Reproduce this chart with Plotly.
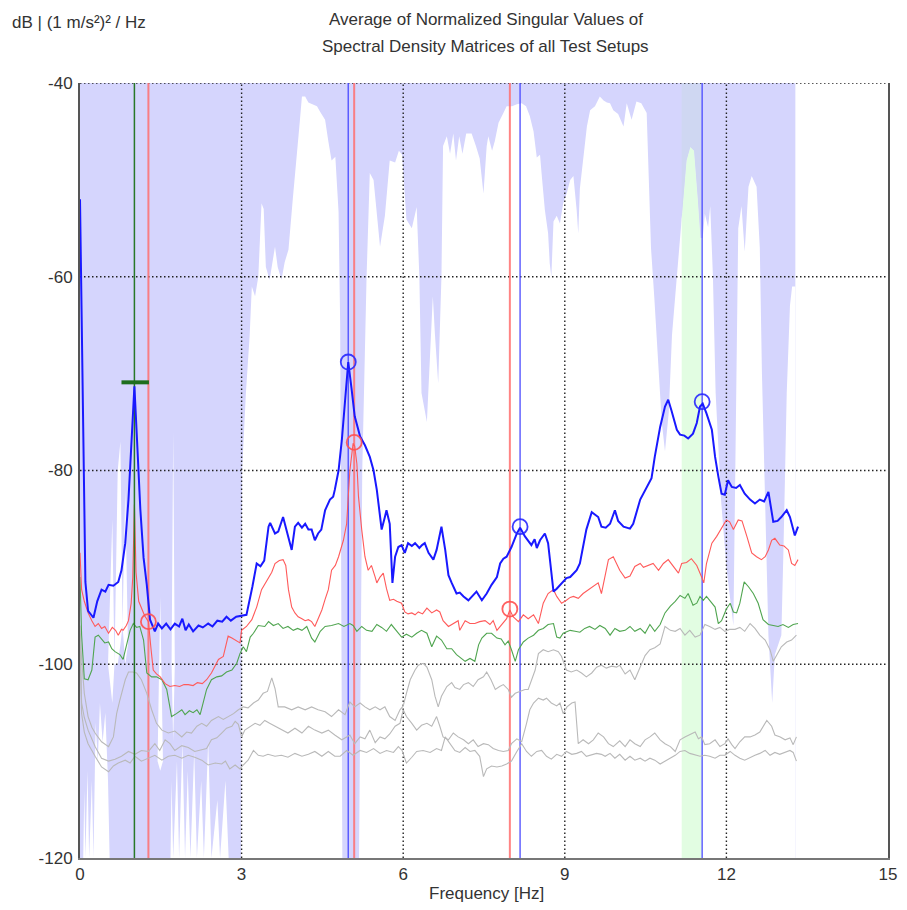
import numpy as np
import plotly.graph_objects as go

# ---------------- data (frequency [Hz], level [dB]) ----------------
blue_sv = [(0, -52), (0.03, -65), (0.06, -80), (0.1, -91.5), (0.15, -94.5), (0.25, -95.2), (0.32, -93.5),
    (0.4, -92.3), (0.47, -92.5), (0.53, -91.8), (0.62, -91.9), (0.71, -91.5), (0.77, -90.3), (0.84, -87.5),
    (0.9, -83), (0.96, -76.5), (1.01, -71.3), (1.06, -77), (1.12, -84), (1.18, -89), (1.24, -91.8),
    (1.30, -95.4), (1.39, -96.6), (1.45, -95.8), (1.52, -96.3), (1.6, -95.8), (1.68, -96.4), (1.76, -95.8),
    (1.84, -96.1), (1.9, -95.3), (1.96, -96.5), (2.02, -95.9), (2.1, -96.6), (2.2, -96), (2.28, -96.2),
    (2.38, -95.8), (2.46, -96.1), (2.55, -95.5), (2.64, -95.6), (2.72, -95.1), (2.8, -95.5), (2.9, -95.1),
    (3.0, -95.0), (3.09, -94.9), (3.2, -92), (3.28, -89.6), (3.35, -89.9), (3.42, -89.3), (3.5, -85.8),
    (3.53, -85.4), (3.62, -86.5), (3.68, -86.3), (3.77, -84.8), (3.87, -86.8), (3.93, -88.2), (3.99, -85.8),
    (4.05, -85.4), (4.12, -85.9), (4.18, -85.5), (4.24, -86.1), (4.3, -86.1), (4.36, -87.2), (4.42, -86.5),
    (4.48, -86.1), (4.55, -84.1), (4.64, -83.0), (4.7, -82.7), (4.73, -82.0), (4.8, -80), (4.86, -76.9),
    (4.92, -72.4), (4.98, -68.8), (5.04, -71.5), (5.1, -74.4), (5.2, -76.5), (5.29, -77.4), (5.38, -78.6),
    (5.45, -80), (5.51, -82), (5.57, -84.8), (5.6, -86.1), (5.66, -84.8), (5.69, -84.1), (5.75, -85.5),
    (5.8, -91.6), (5.85, -88.9), (5.91, -87.9), (5.97, -87.7), (6.03, -88.5), (6.09, -87.5), (6.16, -87.8),
    (6.22, -87.5), (6.3, -88), (6.35, -87.7), (6.4, -87.5), (6.47, -88.5), (6.56, -89.2), (6.62, -88.2),
    (6.71, -85.8), (6.78, -88.2), (6.84, -90.8), (6.9, -91.6), (6.99, -92.7), (7.05, -92.6), (7.12, -93),
    (7.21, -93.4), (7.3, -92.9), (7.36, -92.5), (7.46, -93.4), (7.55, -92.7), (7.64, -91.8), (7.74, -91),
    (7.8, -89.6), (7.86, -89.1), (7.92, -88.9), (8.01, -87.9), (8.11, -86.5), (8.17, -85.9), (8.26, -86.8),
    (8.32, -87.3), (8.38, -87.7), (8.44, -87.1), (8.48, -88), (8.54, -87.2), (8.63, -86.5), (8.69, -87.5),
    (8.74, -90), (8.79, -92.5), (8.85, -92.2), (8.91, -91.8), (9.03, -91.1), (9.1, -91), (9.16, -90.6),
    (9.22, -90.3), (9.28, -89.6), (9.34, -88), (9.40, -86.1), (9.50, -84.3), (9.56, -84.6), (9.62, -84.8),
    (9.68, -85.8), (9.76, -85.9), (9.84, -85.5), (9.93, -84.1), (9.99, -85.2), (10.09, -85.8), (10.21, -86),
    (10.27, -85.5), (10.40, -83.0), (10.49, -82), (10.61, -80.8), (10.67, -78.6), (10.77, -75.5),
    (10.86, -73.4), (10.92, -72.7), (10.98, -73.8), (11.08, -75.8), (11.14, -76.3), (11.22, -76.4),
    (11.29, -76.7), (11.38, -76.2), (11.45, -75.1), (11.51, -73.4), (11.56, -73.1), (11.63, -74.1),
    (11.73, -75.8), (11.79, -78.6), (11.85, -80.6), (11.91, -82.4), (11.97, -82.5), (12.03, -81),
    (12.1, -81.7), (12.18, -81.8), (12.25, -81.5), (12.34, -82.4), (12.44, -83), (12.53, -83.4),
    (12.62, -83), (12.7, -83.2), (12.78, -82.2), (12.87, -85.3), (12.95, -85.2), (13.02, -84.8),
    (13.12, -84.1), (13.18, -84.8), (13.27, -86.7), (13.33, -85.8)]

red_sv = [(0, -88.5), (0.03, -92.3), (0.08, -93.5), (0.15, -94.7), (0.22, -95.5), (0.28, -96.1), (0.34, -95.8),
    (0.4, -96.3), (0.46, -96.1), (0.53, -96.8), (0.6, -96.2), (0.66, -96.5), (0.71, -97), (0.77, -96.4),
    (0.8, -96.5), (0.86, -96), (0.9, -95.5), (0.95, -93.7), (0.98, -91), (1.01, -83.5), (1.04, -90.5),
    (1.09, -93.5), (1.2, -95), (1.27, -95.6), (1.32, -98.5), (1.36, -100.6), (1.42, -101), (1.49, -101.3),
    (1.58, -102), (1.67, -102.3), (1.76, -102.2), (1.85, -102.3), (1.93, -102.1), (2.01, -102.1),
    (2.1, -102.2), (2.18, -101.9), (2.27, -102), (2.35, -101.6), (2.44, -100.9), (2.5, -100.3),
    (2.57, -99.5), (2.66, -99.2), (2.75, -97.1), (2.82, -97.3), (2.88, -97.5), (2.97, -97.8), (3.0, -96.5),
    (3.09, -96.1), (3.19, -95.4), (3.28, -94.1), (3.37, -92.3), (3.5, -91), (3.56, -90.5), (3.62, -89.6),
    (3.7, -89.3), (3.77, -89.2), (3.82, -89.8), (3.87, -92.3), (3.93, -94.1), (3.99, -94.7), (4.05, -95.1),
    (4.12, -95.3), (4.18, -95.5), (4.24, -95.4), (4.3, -95.6), (4.36, -96.1), (4.42, -95.3), (4.49, -94.4),
    (4.55, -93.3), (4.61, -92.3), (4.67, -90.3), (4.74, -89.8), (4.80, -88.9), (4.89, -87.2), (4.95, -85.5),
    (5.01, -80), (5.07, -77.2), (5.1, -77.5), (5.14, -79.3), (5.17, -82.7), (5.23, -86.1), (5.29, -88.9),
    (5.35, -90.3), (5.41, -89.8), (5.48, -91), (5.51, -91.6), (5.57, -91), (5.63, -90.6), (5.69, -92.2),
    (5.75, -93.4), (5.82, -93.3), (5.88, -93.5), (5.97, -93.7), (6.03, -94.6), (6.09, -94.8), (6.16, -94.7),
    (6.22, -94.9), (6.28, -94.6), (6.36, -94.8), (6.44, -94.2), (6.53, -94.7), (6.62, -94.4), (6.68, -94.6),
    (6.74, -95.5), (6.84, -96.1), (6.93, -95.8), (7.02, -95.5), (7.05, -96.5), (7.15, -95.5), (7.24, -95.8),
    (7.33, -95.8), (7.42, -95.6), (7.52, -95.5), (7.61, -95.9), (7.67, -95.5), (7.74, -96.5), (7.83, -95.9),
    (7.92, -95.3), (7.98, -94.4), (8.04, -95.1), (8.14, -95.6), (8.23, -94.9), (8.32, -95.3), (8.42, -94.9),
    (8.51, -95.8), (8.60, -93.7), (8.69, -92.7), (8.79, -92.3), (8.85, -93), (8.94, -93.7), (9.03, -93.4),
    (9.1, -93.1), (9.16, -93), (9.25, -93.2), (9.34, -92.7), (9.44, -92.3), (9.53, -92), (9.62, -91.6),
    (9.68, -92.7), (9.75, -90.6), (9.81, -89.2), (9.9, -88.9), (9.96, -89.6), (10.02, -90.3), (10.12, -91.1),
    (10.21, -90.9), (10.30, -89.9), (10.40, -89.6), (10.46, -90), (10.55, -89.8), (10.64, -89.6),
    (10.74, -90.3), (10.83, -89.6), (10.92, -89.2), (11.02, -89.9), (11.11, -90.6), (11.17, -89.6),
    (11.26, -89.5), (11.35, -89.1), (11.45, -89.8), (11.54, -91), (11.58, -91.6), (11.63, -89.6),
    (11.73, -87.5), (11.82, -86.8), (11.91, -86), (12.0, -85.1), (12.06, -85.3), (12.13, -86.1),
    (12.22, -85.1), (12.29, -85.2), (12.38, -86.8), (12.47, -88.5), (12.56, -88.9), (12.65, -89.2),
    (12.72, -88.9), (12.78, -88.2), (12.84, -87.2), (12.90, -87), (12.99, -87.7), (13.07, -87.8),
    (13.15, -88.2), (13.21, -89.6), (13.27, -89.8), (13.33, -89.2)]

green_sv = [(0, -91), (0.03, -97), (0.08, -101.5), (0.15, -101.6), (0.22, -100.6), (0.28, -97.2), (0.34, -97),
    (0.4, -97.4), (0.46, -97.8), (0.53, -97.7), (0.59, -98.4), (0.65, -98.7), (0.74, -99), (0.8, -99.5),
    (0.87, -97.8), (0.93, -96.5), (0.99, -95.8), (1.05, -96.2), (1.11, -96.1), (1.18, -97.5), (1.24, -100.9),
    (1.33, -101.3), (1.42, -101.3), (1.52, -101.6), (1.61, -102.6), (1.66, -104), (1.70, -105.4),
    (1.79, -105.1), (1.89, -104.7), (1.95, -105.2), (2.03, -104.8), (2.1, -105), (2.17, -104.7),
    (2.23, -105.2), (2.29, -104), (2.35, -102.6), (2.44, -101.6), (2.54, -101.3), (2.63, -101.2),
    (2.72, -100.8), (2.82, -100.6), (2.91, -99.9), (2.97, -98.9), (3.03, -98.2), (3.09, -98.7), (3.16, -97.2),
    (3.22, -96.8), (3.31, -96), (3.43, -96.1), (3.50, -95.6), (3.59, -96), (3.68, -95.8), (3.77, -96.3),
    (3.86, -96.1), (3.96, -96.5), (4.04, -96.3), (4.12, -96.5), (4.21, -96.1), (4.30, -97.3), (4.36, -97.7),
    (4.46, -96.6), (4.55, -96.1), (4.67, -96), (4.80, -95.8), (4.9, -96.1), (5.01, -95.8), (5.07, -96),
    (5.14, -96.6), (5.23, -96.1), (5.32, -96.5), (5.42, -96.6), (5.51, -95.9), (5.6, -96.2), (5.69, -96.6),
    (5.78, -95.9), (5.88, -96.6), (5.97, -97.2), (6.06, -96.9), (6.16, -97.2), (6.25, -96.8), (6.34, -96.5),
    (6.44, -96.8), (6.53, -98.2), (6.62, -97.1), (6.71, -97.5), (6.81, -98.4), (6.90, -98.4), (6.99, -99),
    (7.09, -99.4), (7.15, -99.7), (7.24, -99.4), (7.33, -99.7), (7.40, -98), (7.46, -97.3), (7.55, -96.8),
    (7.64, -96.8), (7.74, -97.3), (7.82, -97.4), (7.89, -98), (7.95, -97.6), (8.01, -98.5), (8.08, -99.7),
    (8.14, -98.5), (8.23, -97.7), (8.32, -97.3), (8.42, -97), (8.51, -96.5), (8.60, -96.3), (8.69, -95.9),
    (8.79, -95.8), (8.85, -97.2), (8.91, -97.3), (8.97, -96.8), (9.10, -96.5), (9.19, -96.6), (9.28, -96.7),
    (9.37, -96.3), (9.46, -96.1), (9.56, -96.4), (9.65, -96), (9.75, -96.3), (9.84, -97), (9.93, -96.3),
    (10.02, -96.6), (10.12, -96.5), (10.21, -96.1), (10.30, -96.6), (10.40, -96.3), (10.49, -96.8),
    (10.58, -95.9), (10.67, -96.6), (10.77, -95.9), (10.86, -94.7), (10.96, -94), (11.05, -93.5),
    (11.14, -92.9), (11.23, -93.2), (11.29, -92.7), (11.38, -93.9), (11.45, -93.7), (11.51, -93),
    (11.57, -93.4), (11.63, -93), (11.73, -93.7), (11.79, -94.1), (11.85, -95.8), (11.91, -95.5),
    (12.0, -94.3), (12.07, -93.7), (12.13, -94.6), (12.19, -94.7), (12.25, -93.7), (12.33, -91.5),
    (12.41, -92), (12.50, -92.7), (12.59, -93.7), (12.68, -95.4), (12.78, -95.9), (12.87, -96),
    (12.96, -96.1), (13.05, -95.9), (13.15, -96.2), (13.24, -95.9), (13.33, -95.8)]

grey_sv4 = [(0, -96), (0.03, -99.5), (0.08, -103), (0.15, -105.4), (0.22, -106.5), (0.28, -107.1), (0.4, -108),
    (0.53, -108.5), (0.62, -107.5), (0.68, -105.1), (0.74, -103.7), (0.84, -101.6), (0.9, -100.8),
    (0.98, -100.8), (1.05, -100.9), (1.14, -101.6), (1.24, -103), (1.33, -104.7), (1.42, -106.1),
    (1.52, -106.8), (1.64, -107.1), (1.76, -106.9), (1.89, -107.5), (1.98, -107), (2.07, -107.1),
    (2.17, -106.4), (2.26, -106.1), (2.35, -106.4), (2.44, -105.8), (2.57, -105.4), (2.66, -105.7),
    (2.75, -105.4), (2.85, -105.1), (2.94, -104.7), (3.03, -104.4), (3.12, -104.5), (3.22, -104),
    (3.31, -103.7), (3.40, -103), (3.48, -102.8), (3.56, -101.4), (3.62, -102.5), (3.68, -104.4),
    (3.8, -104.4), (3.93, -104.7), (4.05, -104.4), (4.18, -104.7), (4.30, -104.4), (4.42, -104.7),
    (4.55, -104.9), (4.67, -105.4), (4.8, -104.7), (4.92, -105.2), (5.01, -103.9), (5.1, -104.4),
    (5.20, -104), (5.29, -104.4), (5.38, -104.7), (5.48, -104.4), (5.57, -104.7), (5.66, -104.4),
    (5.75, -105.4), (5.85, -105.8), (5.94, -104.7), (6.0, -104.3), (6.06, -103), (6.13, -101.6),
    (6.22, -100.6), (6.28, -100.1), (6.37, -99.9), (6.44, -100.3), (6.53, -101.6), (6.59, -103.3),
    (6.65, -104.4), (6.71, -103.3), (6.81, -102.3), (6.90, -101.9), (6.96, -102.4), (7.05, -102.6),
    (7.12, -102.1), (7.21, -101.9), (7.3, -102.3), (7.39, -101.6), (7.49, -101.3), (7.55, -100.8),
    (7.63, -101.6), (7.71, -102.6), (7.79, -102.3), (7.86, -102.1), (7.95, -102.6), (8.01, -103.4),
    (8.08, -103), (8.17, -102.8), (8.26, -102.6), (8.32, -102.6), (8.38, -101.6), (8.45, -100.6),
    (8.51, -98.9), (8.60, -98.5), (8.69, -98.7), (8.79, -98.5), (8.88, -98.7), (8.94, -99.2), (9.03, -100.6),
    (9.12, -100.8), (9.22, -100.6), (9.31, -100.9), (9.40, -101.3), (9.50, -100.9), (9.59, -100.3),
    (9.68, -100.1), (9.77, -100.4), (9.87, -100.2), (9.96, -100.3), (10.02, -100.1), (10.12, -101),
    (10.21, -100.6), (10.30, -101.6), (10.40, -100.3), (10.49, -99.1), (10.58, -98.5), (10.67, -98.3),
    (10.77, -97.9), (10.86, -96.1), (10.96, -96.5), (11.05, -96.6), (11.14, -96.3), (11.23, -97),
    (11.32, -96.5), (11.42, -97.2), (11.51, -97), (11.60, -95.9), (11.69, -96.1), (11.79, -96.4),
    (11.88, -96.2), (11.97, -96.6), (12.06, -96.4), (12.16, -96.4), (12.25, -96.2), (12.34, -96.6),
    (12.44, -95.8), (12.53, -96.3), (12.62, -97), (12.72, -97.5), (12.81, -98.5), (12.87, -99.7),
    (12.93, -99.1), (13.02, -98.2), (13.12, -97.7), (13.21, -97.5), (13.30, -97.0)]

grey_sv5 = [(0, -97), (0.03, -104), (0.08, -105.5), (0.15, -106.8), (0.28, -108.5), (0.40, -109.7), (0.53, -110),
    (0.65, -109.8), (0.77, -109.5), (0.90, -109), (1.02, -109.3), (1.14, -108.9), (1.27, -109), (1.39, -108.2),
    (1.48, -108.9), (1.58, -107.8), (1.67, -108.2), (1.76, -108.9), (1.89, -108.4), (2.01, -108.6),
    (2.13, -109), (2.26, -108.8), (2.35, -108.7), (2.44, -107.8), (2.54, -107.6), (2.63, -107.1),
    (2.72, -106.6), (2.82, -106.4), (2.88, -105.9), (2.94, -106.2), (3.0, -107.5), (3.06, -106.8),
    (3.16, -106.4), (3.25, -106.1), (3.34, -106.3), (3.43, -105.8), (3.52, -106.1), (3.62, -106.4),
    (3.74, -106.8), (3.86, -107.1), (3.99, -106.6), (4.12, -107.1), (4.24, -106.4), (4.36, -106.8),
    (4.49, -107.1), (4.61, -106.8), (4.73, -107.3), (4.86, -107.8), (4.95, -107.5), (5.01, -107.3),
    (5.10, -108.2), (5.2, -107.5), (5.29, -107.7), (5.38, -106.8), (5.48, -108.1), (5.57, -107.5),
    (5.66, -107.7), (5.75, -107.2), (5.85, -106.4), (5.94, -106.1), (6.0, -104.7), (6.06, -105.4),
    (6.16, -106.1), (6.25, -106.8), (6.34, -106.3), (6.44, -106.1), (6.53, -106.4), (6.62, -105.4),
    (6.68, -106.4), (6.74, -107.5), (6.84, -107.8), (6.93, -107.1), (7.02, -107.5), (7.12, -107.8),
    (7.21, -108.2), (7.30, -107.8), (7.39, -108.5), (7.49, -108.2), (7.58, -108.3), (7.67, -108.7),
    (7.77, -108.9), (7.86, -109), (7.95, -108.9), (8.01, -108.2), (8.11, -107.7), (8.2, -108),
    (8.29, -106.1), (8.35, -104.7), (8.42, -104), (8.51, -103.5), (8.60, -103.7), (8.66, -103.5),
    (8.75, -104), (8.85, -104.3), (8.91, -104), (8.97, -105.1), (9.04, -104.4), (9.13, -104),
    (9.19, -103.9), (9.25, -108.2), (9.34, -107.8), (9.44, -108.2), (9.53, -107.8), (9.62, -107.1),
    (9.72, -107.5), (9.81, -108.2), (9.90, -108.5), (9.96, -108.2), (10.02, -107.9), (10.12, -108.5),
    (10.21, -107.8), (10.30, -108.2), (10.40, -108.5), (10.49, -107.8), (10.58, -107.5), (10.67, -107.1),
    (10.77, -107.8), (10.86, -108.2), (10.96, -108.5), (11.05, -109), (11.14, -107.8), (11.23, -107.5),
    (11.32, -107.3), (11.42, -107), (11.48, -107.7), (11.54, -107.5), (11.60, -108.3), (11.69, -108.2),
    (11.79, -107.8), (11.88, -108.5), (11.97, -108.2), (12.03, -107.7), (12.1, -108.3), (12.16, -108.7),
    (12.25, -108), (12.34, -107.5), (12.44, -107.5), (12.53, -107.3), (12.62, -107), (12.68, -106.4),
    (12.75, -105.8), (12.84, -106.4), (12.90, -107.3), (13.0, -107.5), (13.09, -107.8), (13.18, -107.6),
    (13.24, -108.3), (13.30, -107.5)]

grey_sv6 = [(0, -98), (0.03, -105.1), (0.08, -107), (0.15, -108.2), (0.28, -109.5), (0.40, -110.6), (0.53, -111.1),
    (0.62, -110.5), (0.71, -110.2), (0.84, -109.9), (0.93, -110.2), (1.02, -109.5), (1.14, -110),
    (1.27, -109.7), (1.39, -109.4), (1.52, -109.9), (1.64, -109.5), (1.76, -109.4), (1.89, -109.7),
    (2.01, -109.4), (2.13, -109.6), (2.26, -109.9), (2.38, -110.4), (2.51, -110.2), (2.63, -110.3),
    (2.70, -110), (2.78, -110.8), (2.88, -110.4), (2.97, -110.8), (3.03, -110.4), (3.12, -109.9),
    (3.22, -108.9), (3.31, -109.4), (3.40, -109.5), (3.49, -109.3), (3.62, -109.5), (3.74, -109.4),
    (3.86, -109.6), (3.99, -109.2), (4.12, -109.5), (4.24, -109.3), (4.36, -109), (4.49, -109.5),
    (4.61, -109), (4.73, -109.5), (4.83, -109.5), (4.95, -108.9), (5.07, -109.4), (5.20, -108.9),
    (5.32, -109.1), (5.45, -108.7), (5.57, -109.2), (5.69, -108.9), (5.82, -109.1), (5.91, -108.5),
    (5.98, -108.9), (6.06, -110.2), (6.16, -109.6), (6.25, -109), (6.37, -108.9), (6.50, -109.1),
    (6.62, -108.7), (6.71, -108.9), (6.78, -107.5), (6.87, -108.2), (6.96, -108.9), (7.05, -109.1),
    (7.15, -108.6), (7.24, -109), (7.33, -108.9), (7.42, -109.5), (7.49, -111.6), (7.55, -110.8),
    (7.64, -110.5), (7.74, -110.6), (7.83, -110.5), (7.92, -110.3), (8.01, -110), (8.11, -109),
    (8.20, -108.2), (8.29, -109), (8.38, -109.5), (8.48, -109), (8.57, -108.9), (8.66, -109.5),
    (8.75, -109.8), (8.85, -109.3), (8.94, -109.5), (9.03, -109), (9.13, -109.3), (9.22, -109.2),
    (9.31, -109), (9.40, -109.5), (9.50, -109.3), (9.59, -109.2), (9.68, -109.3), (9.75, -109.5),
    (9.84, -109.2), (9.93, -109.7), (10.02, -109.3), (10.12, -109.9), (10.21, -109.5), (10.30, -109.9),
    (10.40, -109.7), (10.49, -110), (10.58, -109.7), (10.67, -109.9), (10.77, -110.3), (10.86, -110),
    (10.96, -109.7), (11.05, -109.4), (11.14, -109), (11.23, -108.9), (11.32, -109.2), (11.42, -109.4),
    (11.51, -109.5), (11.60, -109.4), (11.69, -109.5), (11.79, -109.7), (11.88, -109.4), (11.97, -109.4),
    (12.07, -109), (12.16, -109.4), (12.25, -109.7), (12.34, -109.9), (12.44, -109.6), (12.53, -109.4),
    (12.62, -109.2), (12.72, -108.9), (12.81, -109.4), (12.90, -109.1), (12.99, -109.3), (13.09, -109.1),
    (13.18, -108.9), (13.24, -109.1), (13.30, -110)]

# upper edge of the white (uncovered) zone inside the shaded frequency coverage
shade_edge = [(0.00, -120), (0.06, -120), (0.08, -113), (0.10, -120), (0.14, -111), (0.17, -120), (0.22, -112),
    (0.25, -120), (0.29, -106), (0.33, -110), (0.37, -104), (0.42, -108), (0.47, -105), (0.52, -112),
    (0.55, -120), (1.60, -120), (1.68, -120), (1.70, -112), (1.73, -120), (1.80, -110), (1.84, -120),
    (1.90, -108), (1.95, -120), (2.00, -111), (2.05, -120), (2.12, -109), (2.17, -120), (2.25, -112),
    (2.30, -120), (2.38, -108), (2.44, -120), (2.55, -114), (2.60, -120), (2.70, -112), (2.76, -120),
    (2.99, -120), (3.01, -80), (3.08, -72), (3.15, -66), (3.19, -61), (3.25, -62), (3.31, -60),
    (3.37, -52.4), (3.41, -53), (3.45, -59), (3.52, -60.3), (3.58, -58), (3.62, -56.9), (3.67, -59),
    (3.74, -60.3), (3.80, -58.5), (3.87, -57.2), (3.95, -52), (4.02, -48), (4.08, -44), (4.12, -41.4),
    (4.18, -41.4), (4.24, -42), (4.32, -42.2), (4.40, -42.4), (4.46, -43), (4.55, -43.8), (4.61, -46),
    (4.67, -48), (4.74, -47.6), (4.80, -53.3), (4.83, -65), (4.87, -120), (5.18, -120), (5.24, -80),
    (5.32, -60), (5.38, -49.3), (5.45, -50), (5.52, -54), (5.57, -56.9), (5.66, -53.7), (5.75, -48),
    (5.85, -48.2), (5.92, -47), (5.98, -47.4), (6.06, -54.1), (6.16, -55), (6.25, -52.8), (6.30, -60),
    (6.34, -72), (6.44, -75), (6.50, -68), (6.55, -62), (6.59, -66), (6.65, -71), (6.71, -60),
    (6.74, -46.5), (6.81, -45.5), (6.87, -47.3), (6.93, -45.2), (6.98, -48), (7.04, -45.5), (7.10, -47.3),
    (7.17, -45.2), (7.27, -45.2), (7.35, -46.5), (7.42, -47.8), (7.49, -51.4), (7.55, -46.5),
    (7.58, -45.5), (7.65, -47), (7.70, -46), (7.77, -44.1), (7.86, -43.1), (7.92, -42.4), (8.02, -42.4),
    (8.11, -42.2), (8.20, -42.1), (8.28, -42.4), (8.35, -43.4), (8.42, -45), (8.48, -47.7), (8.54, -47.4),
    (8.57, -49.4), (8.63, -53.1), (8.69, -55.5), (8.72, -58.6), (8.75, -60), (8.79, -54.3), (8.85, -53.7),
    (8.91, -54.5), (8.97, -52.4), (9.04, -51.3), (9.10, -50), (9.16, -49.6), (9.22, -53.1), (9.25, -55.5),
    (9.28, -50.9), (9.34, -47.9), (9.41, -44.5), (9.47, -42.8), (9.56, -42.4), (9.65, -41.4),
    (9.72, -41.8), (9.78, -42), (9.84, -42.1), (9.90, -42.8), (9.99, -43.2), (10.09, -44.5),
    (10.15, -42.1), (10.24, -43.8), (10.33, -41.9), (10.42, -42.1), (10.52, -43.1), (10.56, -50),
    (10.60, -57), (10.66, -62), (10.72, -68), (10.80, -75), (10.86, -78), (10.93, -74), (10.99, -66),
    (11.08, -60), (11.17, -54), (11.26, -48), (11.33, -46.6), (11.40, -47), (11.47, -52), (11.52, -56),
    (11.56, -56), (11.60, -53.5), (11.66, -54.9), (11.70, -52.7), (11.75, -60), (11.80, -72),
    (11.90, -83), (12.00, -90), (12.13, -96), (12.18, -70), (12.22, -55), (12.28, -52.7), (12.34, -57.4),
    (12.41, -50.7), (12.47, -49.6), (12.56, -50.7), (12.62, -57), (12.66, -70), (12.72, -85),
    (12.78, -97), (12.85, -104), (12.90, -99), (12.96, -98), (13.02, -97), (13.06, -88), (13.12, -72),
    (13.18, -63), (13.22, -61), (13.28, -61)]

# isolated uncovered streaks in the low-frequency zone: (freq, lower dB, upper dB)
shade_streaks = [(0.52, -100, -100), (0.56, -102, -92), (0.60, -104, -85), (0.64, -100, -100),
    (0.70, -100, -80), (0.75, -98, -77), (0.79, -96, -96), (0.84, -100, -82), (0.89, -98, -98),
    (1.44, -110, -110), (1.49, -111, -93), (1.54, -110, -110), (1.70, -100, -100), (1.73, -108, -76),
    (1.76, -100, -100)]

coverage_f = [0.0, 13.28]          # frequency span of the shaded coverage
band_f = [11.17, 11.54]            # highlighted (green) band
db_range = [-120, -40]
freq_range = [0, 15]
x_ticks = [0, 3, 6, 9, 12, 15]
x_tick_labels = ["0", "3", "6", "9", "12", "15"]
y_ticks = [-120, -100, -80, -60, -40]
y_tick_labels = ["-120", "-100", "-80", "-60", "-40"]
x_grid = [3, 6, 9, 12]
y_grid = [-100, -80, -60, -40]

blue_peaks = [(4.98, -68.8), (8.17, -85.8), (11.55, -72.9)]
red_peaks = [(1.27, -95.6), (5.09, -77.1), (7.98, -94.3)]
green_mode_f = 1.01
green_mode_bar = ([0.77, 1.28], -70.9)

title_lines = ["Average of Normalized Singular Values of", "Spectral Density Matrices of all Test Setups"]
unit_label = "dB | (1 m/s²)² / Hz"
x_label = "Frequency [Hz]"

# ---------------- figure ----------------
def unzip(pairs):
    return [p[0] for p in pairs], [p[1] for p in pairs]

LAV = "rgb(213,213,253)"
fig = go.Figure()

# shaded coverage
fig.add_trace(go.Scatter(x=[coverage_f[0], coverage_f[1], coverage_f[1], coverage_f[0]],
                         y=[db_range[1], db_range[1], db_range[0], db_range[0]],
                         fill="toself", fillcolor=LAV, line=dict(width=0), mode="lines",
                         hoverinfo="skip", showlegend=False))
sf, sw = unzip(shade_edge)
fig.add_trace(go.Scatter(x=sf, y=[db_range[0]] * len(sf), mode="lines", line=dict(width=0),
                         hoverinfo="skip", showlegend=False))
fig.add_trace(go.Scatter(x=sf, y=sw, mode="lines", line=dict(width=0), fill="tonexty",
                         fillcolor="white", hoverinfo="skip", showlegend=False))
stf = [s[0] for s in shade_streaks]
stl = [s[1] for s in shade_streaks]
sth = [s[2] for s in shade_streaks]
fig.add_trace(go.Scatter(x=stf, y=stl, mode="lines", line=dict(width=0), hoverinfo="skip", showlegend=False))
fig.add_trace(go.Scatter(x=stf, y=sth, mode="lines", line=dict(width=0), fill="tonexty",
                         fillcolor="white", hoverinfo="skip", showlegend=False))

# green band: split at the coverage edge
bx = [band_f[0]] + [f for f in sf if band_f[0] < f < band_f[1]] + [band_f[1]]
bw = list(np.interp(bx, sf, sw))
fig.add_trace(go.Scatter(x=bx + bx[::-1], y=bw + [db_range[0]] * len(bx), fill="toself",
                         fillcolor="rgb(226,253,226)", line=dict(width=0), mode="lines",
                         hoverinfo="skip", showlegend=False))
fig.add_trace(go.Scatter(x=bx + bx[::-1], y=bw + [db_range[1]] * len(bx), fill="toself",
                         fillcolor="rgb(207,215,242)", line=dict(width=0), mode="lines",
                         hoverinfo="skip", showlegend=False))

# dotted grid
GRID = dict(color="#222", width=1.4, dash="1.5px,2.5px")
for g in x_grid:
    fig.add_trace(go.Scatter(x=[g, g], y=db_range, mode="lines", line=GRID, hoverinfo="skip", showlegend=False))
for g in y_grid:
    fig.add_trace(go.Scatter(x=freq_range, y=[g, g], mode="lines", line=GRID, hoverinfo="skip", showlegend=False))

# vertical mode lines
for f, _ in red_peaks:
    fig.add_trace(go.Scatter(x=[f, f], y=db_range, mode="lines",
                             line=dict(color="rgba(255,110,110,0.85)", width=2),
                             hoverinfo="skip", showlegend=False))
for f, _ in blue_peaks:
    fig.add_trace(go.Scatter(x=[f, f], y=db_range, mode="lines",
                             line=dict(color="rgba(70,70,255,0.85)", width=1.5),
                             hoverinfo="skip", showlegend=False))

# singular value curves
for data, col, w in [(grey_sv6, "rgb(185,185,185)", 1.1), (grey_sv5, "rgb(185,185,185)", 1.1),
                     (grey_sv4, "rgb(185,185,185)", 1.1), (green_sv, "rgb(80,165,80)", 1.1),
                     (red_sv, "rgb(255,90,90)", 1.1)]:
    x, y = unzip(data)
    fig.add_trace(go.Scatter(x=x, y=y, mode="lines", line=dict(color=col, width=w),
                             hoverinfo="skip", showlegend=False))
fig.add_trace(go.Scatter(x=[green_mode_f, green_mode_f], y=db_range, mode="lines",
                         line=dict(color="rgb(40,120,40)", width=1.5), hoverinfo="skip", showlegend=False))
x, y = unzip(blue_sv)
fig.add_trace(go.Scatter(x=x, y=y, mode="lines", line=dict(color="rgb(25,25,255)", width=2),
                         hoverinfo="skip", showlegend=False))

# peak markers
px_, py_ = unzip(red_peaks)
fig.add_trace(go.Scatter(x=px_, y=py_, mode="markers",
                         marker=dict(symbol="circle-open", size=15, color="rgba(255,80,80,0.9)",
                                     line=dict(width=1.8)), hoverinfo="skip", showlegend=False))
px_, py_ = unzip(blue_peaks)
fig.add_trace(go.Scatter(x=px_, y=py_, mode="markers",
                         marker=dict(symbol="circle-open", size=15, color="rgba(40,40,255,0.9)",
                                     line=dict(width=1.8)), hoverinfo="skip", showlegend=False))
fig.add_trace(go.Scatter(x=green_mode_bar[0], y=[green_mode_bar[1]] * 2, mode="lines",
                         line=dict(color="rgb(30,110,30)", width=4), hoverinfo="skip", showlegend=False))

FONT = "Arial, 'Liberation Sans', sans-serif"
TXT = dict(size=17, color="#333")
fig.update_layout(
    width=907, height=910,
    margin=dict(l=80, r=19, t=83, b=52, autoexpand=False),
    paper_bgcolor="white", plot_bgcolor="white",
    font=dict(family=FONT, size=17, color="#333"),
    xaxis=dict(range=freq_range, tickvals=x_ticks, ticktext=x_tick_labels, showgrid=False, zeroline=False,
               showline=True, linecolor="#777", linewidth=2, ticks="", tickfont=TXT, automargin=False),
    yaxis=dict(range=db_range, tickvals=y_ticks, ticktext=y_tick_labels, showgrid=False, zeroline=False,
               showline=True, mirror=True, linecolor="#555", linewidth=2, ticks="",
               tickfont=TXT, ticklabelstandoff=2, automargin=False),
    annotations=[
        dict(text=unit_label, xref="paper", yref="paper", x=-0.0866, y=1.0787,
             xanchor="left", yanchor="middle", showarrow=False, font=TXT),
        dict(text=title_lines[0], xref="paper", yref="paper", x=0.5019, y=1.0813,
             xanchor="center", yanchor="middle", showarrow=False, font=TXT),
        dict(text=title_lines[1], xref="paper", yref="paper", x=0.5019, y=1.0477,
             xanchor="center", yanchor="middle", showarrow=False, font=TXT),
        dict(text=x_label, xref="paper", yref="paper", x=0.503, y=-0.0452,
             xanchor="center", yanchor="middle", showarrow=False, font=TXT),
    ],
)
fig.write_html("out.html")
